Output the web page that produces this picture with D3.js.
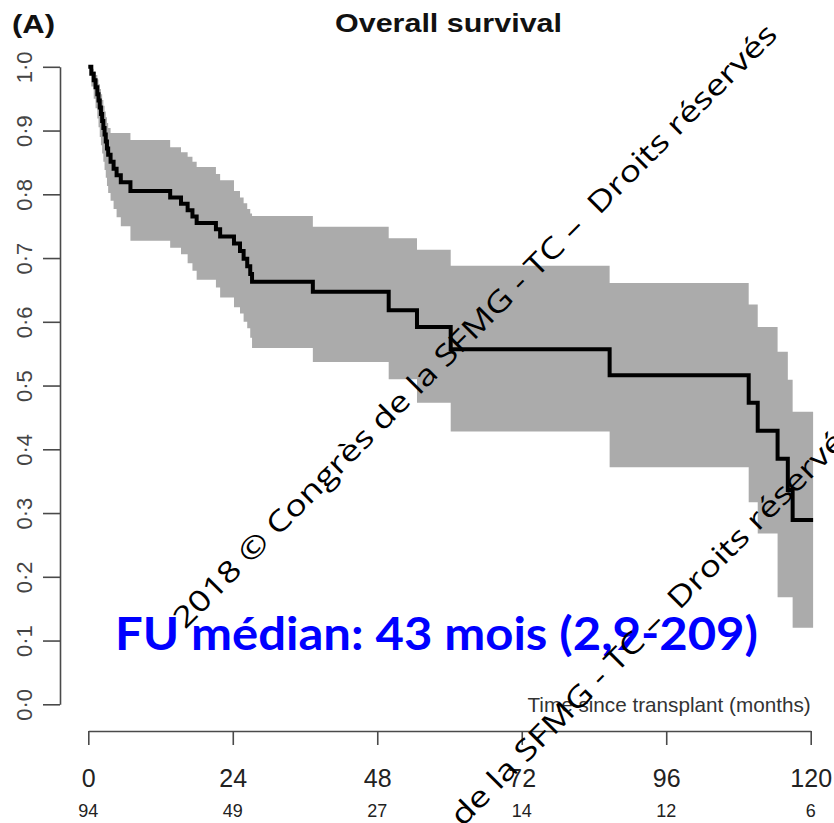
<!DOCTYPE html>
<html>
<head>
<meta charset="utf-8">
<script src="https://cdn.jsdelivr.net/npm/d3@7"></script>
<style>
  html, body { margin: 0; padding: 0; background: #fff; }
  svg { display: block; }
</style>
</head>
<body>
<div id="chart"></div>
<script>
// ---- Data ----
const months   = [0, 0.5, 0.9, 1.2, 1.5, 1.7, 1.9, 2.1, 2.3, 2.5, 2.7, 2.9, 3.1, 3.3, 3.7, 4.2, 4.7, 5.4, 7.0, 13.6, 15.4, 16.5, 17.3, 18.0, 21.2, 21.9, 24.2, 25.2, 25.8, 26.4, 26.9, 27.2, 37.3, 49.9, 54.6, 60.2, 86.6, 109.7, 111.2, 114.5, 116.2, 117.0, 120.4];
const survival = [1.0, 0.989, 0.979, 0.968, 0.957, 0.947, 0.936, 0.926, 0.915, 0.904, 0.894, 0.883, 0.872, 0.862, 0.851, 0.840, 0.830, 0.819, 0.805, 0.795, 0.785, 0.775, 0.765, 0.755, 0.745, 0.734, 0.723, 0.711, 0.699, 0.687, 0.675, 0.663, 0.647, 0.618, 0.592, 0.557, 0.516, 0.473, 0.429, 0.385, 0.336, 0.289, 0.289];
const upperCI  = [1.0, 0.997, 0.993, 0.987, 0.980, 0.973, 0.965, 0.957, 0.948, 0.939, 0.930, 0.921, 0.912, 0.904, 0.896, 0.896, 0.896, 0.896, 0.885, 0.874, 0.866, 0.859, 0.851, 0.843, 0.832, 0.822, 0.805, 0.795, 0.786, 0.777, 0.770, 0.766, 0.749, 0.731, 0.713, 0.688, 0.661, 0.627, 0.592, 0.553, 0.509, 0.459, 0.459];
const lowerCI  = [1.0, 0.969, 0.950, 0.935, 0.919, 0.905, 0.890, 0.877, 0.864, 0.851, 0.838, 0.826, 0.813, 0.802, 0.790, 0.777, 0.764, 0.750, 0.727, 0.716, 0.706, 0.692, 0.680, 0.666, 0.654, 0.638, 0.623, 0.613, 0.600, 0.590, 0.575, 0.559, 0.537, 0.510, 0.473, 0.428, 0.372, 0.317, 0.268, 0.168, 0.168, 0.120, 0.120];

const xTicks = [0, 24, 48, 72, 96, 120];
const atRisk = [94, 49, 27, 14, 12, 6];
const yTicks = [0, 0.1, 0.2, 0.3, 0.4, 0.5, 0.6, 0.7, 0.8, 0.9, 1.0];

const panelLabel = "(A)";
const title = "Overall survival";
const xLabel = "Time since transplant (months)";
const note = "FU médian: 43 mois (2,9-209)";
const watermark = "2018 © Congrès de la SFMG - TC –  Droits réservés";

// ---- Layout ----
const W = 834, H = 823;
const svg = d3.select("#chart").append("svg").attr("width", W).attr("height", H)
  .style("background", "#fff");

const x = d3.scaleLinear().domain([0, 120]).range([88.3, 810.7]);
const y = d3.scaleLinear().domain([0, 1]).range([704.3, 66.8]);

const rows = months.map((m, i) => ({ m, s: survival[i], u: upperCI[i], l: lowerCI[i] }));

// Confidence band
svg.append("path")
  .datum(rows)
  .attr("fill", "#ababab")
  .attr("d", d3.area().curve(d3.curveStepAfter)
    .x(d => x(d.m)).y0(d => y(d.l)).y1(d => y(d.u)));

// Survival curve
svg.append("path")
  .datum(rows)
  .attr("fill", "none")
  .attr("stroke", "#000")
  .attr("stroke-width", 4)
  .attr("d", d3.line().curve(d3.curveStepAfter).x(d => x(d.m)).y(d => y(d.s)));

// Y axis
const yAxis = svg.append("g").attr("transform", "translate(60,0)")
  .call(d3.axisLeft(y).tickValues(yTicks).tickSize(17).tickSizeOuter(0)
    .tickFormat(d => d3.format(".1f")(d).replace(".", "·")));
yAxis.select(".domain").attr("stroke", "#4a4a4a").attr("stroke-width", 1.6);
yAxis.selectAll(".tick line").attr("stroke", "#4a4a4a").attr("stroke-width", 1.6);
yAxis.selectAll(".tick text")
  .attr("x", null).attr("dy", null)
  .attr("text-anchor", "middle")
  .attr("transform", "translate(-28,0) rotate(-90)")
  .attr("fill", "#444")
  .style("font-family", "'Liberation Sans', Arial, sans-serif")
  .style("font-size", "22px");

// X axis
const xAxis = svg.append("g").attr("transform", "translate(0,731)")
  .call(d3.axisBottom(x).tickValues(xTicks).tickSize(14).tickSizeOuter(0));
xAxis.select(".domain").attr("stroke", "#4a4a4a").attr("stroke-width", 1.6);
xAxis.selectAll(".tick line").attr("stroke", "#4a4a4a").attr("stroke-width", 1.6);
xAxis.selectAll(".tick text")
  .attr("y", 56).attr("dy", null)
  .attr("fill", "#222")
  .style("font-family", "'Liberation Sans', Arial, sans-serif")
  .style("font-size", "25px");

// Numbers at risk
svg.append("g").selectAll("text").data(xTicks).join("text")
  .attr("x", d => x(d)).attr("y", 817)
  .attr("text-anchor", "middle")
  .attr("fill", "#222")
  .style("font-family", "'Liberation Sans', Arial, sans-serif")
  .style("font-size", "18px")
  .text((d, i) => atRisk[i]);

// X label
svg.append("text")
  .attr("x", x(120)).attr("y", 712)
  .attr("text-anchor", "end")
  .attr("fill", "#333")
  .style("font-family", "'Liberation Sans', Arial, sans-serif")
  .style("font-size", "20.7px")
  .text(xLabel);

// Title and panel label
svg.append("text")
  .attr("x", 335).attr("y", 32)
  .attr("fill", "#111")
  .attr("textLength", 227)
  .attr("lengthAdjust", "spacingAndGlyphs")
  .style("font-family", "'Liberation Sans', Arial, sans-serif")
  .style("font-weight", "bold")
  .style("font-size", "26px")
  .text(title);
svg.append("text")
  .attr("x", 12).attr("y", 33)
  .attr("fill", "#111")
  .attr("textLength", 43)
  .attr("lengthAdjust", "spacingAndGlyphs")
  .style("font-family", "'Liberation Sans', Arial, sans-serif")
  .style("font-weight", "bold")
  .style("font-size", "26px")
  .text(panelLabel);

// Blue annotation
svg.append("text")
  .attr("x", 115).attr("y", 650)
  .attr("fill", "#0000ff")
  .attr("textLength", 643)
  .attr("lengthAdjust", "spacingAndGlyphs")
  .style("font-family", "Lato, 'Open Sans', sans-serif")
  .style("font-weight", "bold")
  .style("font-size", "45px")
  .text(note);

// Watermarks (rotated -45°)
const wmStarts = [[185, 630], [265, 1025]];
wmStarts.forEach(([sx, sy]) => {
  svg.append("text")
    .attr("transform", `translate(${sx},${sy}) rotate(-45)`)
    .attr("fill", "#000")
    .attr("textLength", 840)
    .attr("lengthAdjust", "spacingAndGlyphs")
    .style("font-family", "'Open Sans', 'Noto Sans', sans-serif")
    .style("font-size", "29px")
    .style("white-space", "pre")
    .text(watermark);
});
</script>
</body>
</html>
